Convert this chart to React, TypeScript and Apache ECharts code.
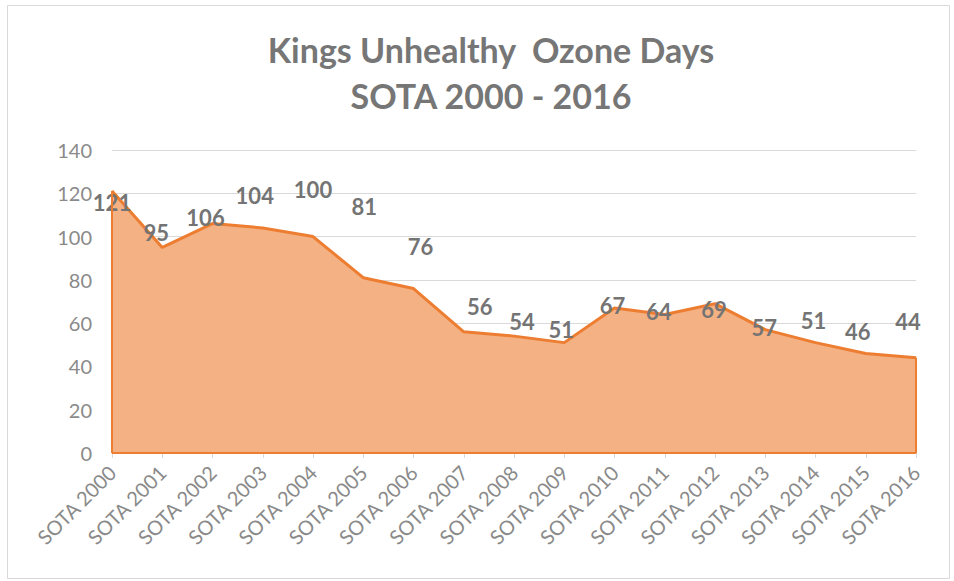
import React, { useEffect, useRef } from "react";
import * as echarts from "echarts";

const categories = [
  "SOTA 2000", "SOTA 2001", "SOTA 2002", "SOTA 2003", "SOTA 2004", "SOTA 2005",
  "SOTA 2006", "SOTA 2007", "SOTA 2008", "SOTA 2009", "SOTA 2010", "SOTA 2011",
  "SOTA 2012", "SOTA 2013", "SOTA 2014", "SOTA 2015", "SOTA 2016",
];
const values = [121, 95, 106, 104, 100, 81, 76, 56, 54, 51, 67, 64, 69, 57, 51, 46, 44];
const labelOffsets: number[][] = [
  [0, 11], [-6, -15], [-7, -6], [-8, -32], [0, -47], [1, -71], [7, -42], [16, -25],
  [8, -15], [-3, -13], [-2, -2], [-6, -3], [-1, 6], [-1, -2], [-2, -22], [-8, -22], [-8, -36],
];
const yTicks = { min: 0, max: 140, interval: 20 };
const titleLines = ["Kings Unhealthy  Ozone Days", "SOTA 2000 - 2016"];

const FONT = "Lato, 'Open Sans', sans-serif";
const LINE = "#ed7d31";
const FILL = "#f4b183";

export default function App() {
  const ref = useRef<HTMLDivElement>(null);
  useEffect(() => {
    document.body.style.margin = "0";
    if (!ref.current) return;
    const chart = echarts.init(ref.current, undefined, { renderer: "svg" });
    const last = categories.length - 1;
    chart.setOption({
      animation: false,
      backgroundColor: "#ffffff",
      textStyle: { fontFamily: FONT },
      title: titleLines.map((t, i) => ({
        text: t,
        left: 486,
        textAlign: "center",
        top: 27 + i * 46,
        textStyle: { fontFamily: FONT, fontWeight: "bold", fontSize: 34, color: "#767676" },
      })),
      graphic: [
        {
          type: "rect",
          shape: { x: 7.5, y: 5.5, width: 942, height: 573 },
          style: { fill: "none", stroke: "#d9d9d9", lineWidth: 1 },
          silent: true,
        },
      ],
      grid: { left: 112, right: 38, top: 150, bottom: 128 },
      xAxis: {
        type: "category",
        data: categories,
        boundaryGap: false,
        axisLine: { lineStyle: { color: "#d9d9d9" } },
        axisTick: { show: true, length: 5, lineStyle: { color: "#d9d9d9" } },
        axisLabel: { rotate: 45, fontSize: 20, color: "#8a8a8a", fontFamily: FONT, margin: 16 },
      },
      yAxis: {
        type: "value",
        min: yTicks.min,
        max: yTicks.max,
        interval: yTicks.interval,
        axisLine: { show: false },
        axisTick: { show: false },
        splitLine: { lineStyle: { color: "#d9d9d9", width: 1 } },
        axisLabel: { fontSize: 20, color: "#8a8a8a", fontFamily: FONT, margin: 20 },
      },
      series: [
        {
          type: "line",
          data: values.map((v, i) => ({ value: v, label: { offset: labelOffsets[i] } })),
          symbol: "circle",
          symbolSize: 1,
          itemStyle: { color: LINE },
          lineStyle: { color: LINE, width: 3 },
          areaStyle: { color: FILL, opacity: 1 },
          label: {
            show: true,
            position: "inside",
            fontFamily: FONT,
            fontWeight: "bold",
            fontSize: 22,
            color: "#747474",
          },
          markLine: {
            silent: true,
            symbol: "none",
            label: { show: false },
            lineStyle: { color: LINE, width: 2, type: "solid" },
            data: [
              [{ coord: [0, 0] }, { coord: [0, values[0]] }],
              [{ coord: [last, 0] }, { coord: [last, values[last]] }],
              [{ coord: [0, 0] }, { coord: [last, 0] }],
            ],
          },
          z: 2,
        },
      ],
    });
    return () => chart.dispose();
  }, []);
  return <div ref={ref} style={{ width: 954, height: 581 }} />;
}
